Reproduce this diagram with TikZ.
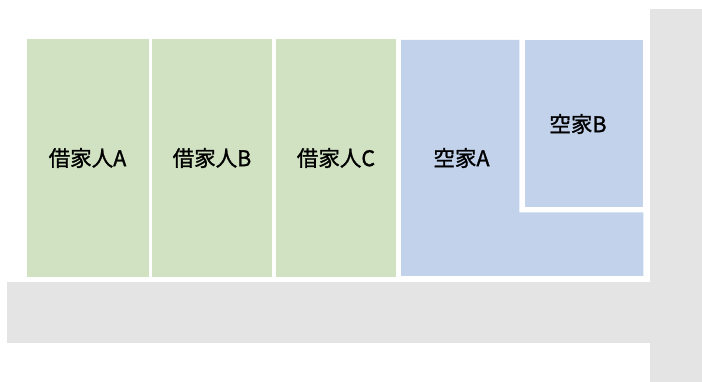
\documentclass[tikz,border=0pt]{standalone}
\usepackage{fontspec}
\newfontfamily\jp[FakeBold=1.2]{Noto Sans CJK JP}
\definecolor{road}{HTML}{E4E4E4}
\definecolor{rent}{HTML}{D0E2C1}
\definecolor{vacant}{HTML}{C2D2EB}
\tikzset{
  lot/.style={inner sep=0pt, outer sep=0pt},
  lbl/.style={font=\jp\fontsize{21.5}{25}\selectfont, inner sep=0pt, text=black}
}
\begin{document}
\begin{tikzpicture}[x=1pt,y=-1pt]
\useasboundingbox (0,0) rectangle (702,382);
% roads
\fill[road] (6.7,282.3) rectangle (702,343.3);
\fill[road] (650,9) rectangle (702,382);
% rented houses
\fill[rent] (26.7,39.3) rectangle (148.7,276.7);
\fill[rent] (152.3,39.3) rectangle (272.3,276.7);
\fill[rent] (276.3,39.3) rectangle (396.3,276.7);
% vacant houses
\fill[vacant] (401,40) -- (519.3,40) -- (519.3,212.3) -- (643.3,212.3) -- (643.3,276) -- (401,276) -- cycle;
\fill[vacant] (524.7,40) rectangle (643.3,206.7);
% labels
\node[lbl] (ta) at (87.5,158) {借家人A};
\node[lbl] (tb) at (212,158) {借家人B};
\node[lbl] (tc) at (336,158) {借家人C};
\node[lbl] (va) at (461.5,158) {空家A};
\node[lbl] (vb) at (578,124) {空家B};
\end{tikzpicture}
\end{document}
